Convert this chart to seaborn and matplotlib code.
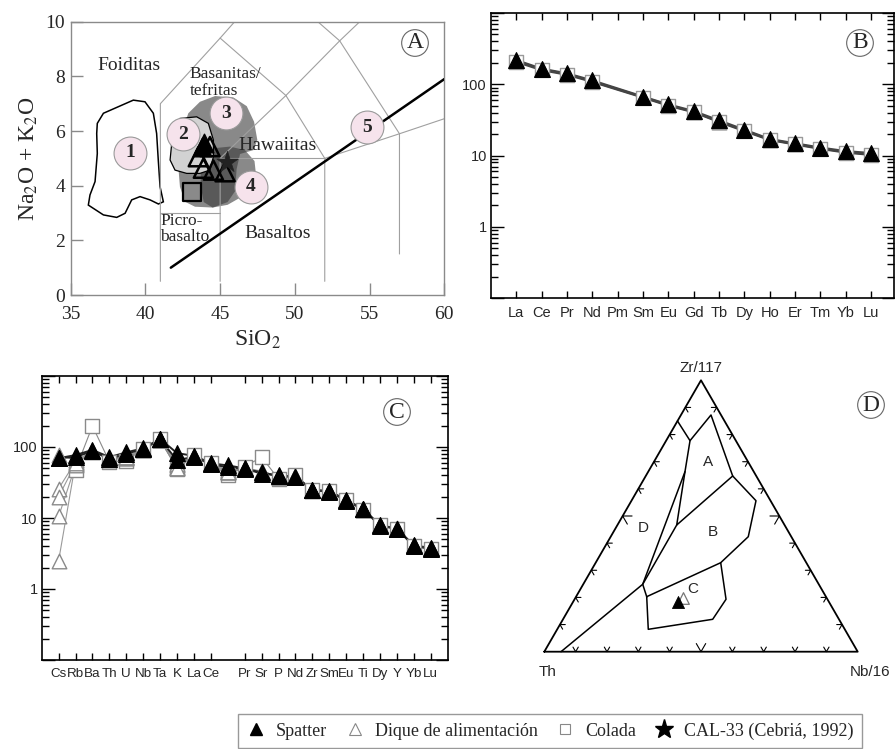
import numpy as np
import pandas as pd
import matplotlib
matplotlib.use("Agg")
import matplotlib.pyplot as plt
import matplotlib.ticker as mticker
from matplotlib.lines import Line2D
import seaborn as sns

sns.set_theme(style="ticks")
plt.rcParams["font.family"] = ["Liberation Serif", "DejaVu Serif"]
plt.rcParams["mathtext.fontset"] = "stix"
SANS = ["Liberation Sans", "DejaVu Sans"]
SERIF = ["Liberation Serif", "DejaVu Serif"]

# ---------------- Panel A : TAS diagram ----------------
tas_sio2_spatter = [43.77, 43.92]
tas_alk_spatter = [5.43, 5.55]
tas_sio2_dike = [44.32, 43.54, 43.88, 44.55, 45.33]
tas_alk_dike = [5.43, 5.06, 4.64, 4.57, 4.51]
tas_sio2_colada = [43.1]
tas_alk_colada = [3.78]
tas_sio2_cal33 = [45.44]
tas_alk_cal33 = [4.88]

tas_boundaries = [
    [(41, 0.5), (41, 7), (45, 9.4), (48.4, 11.5)],
    [(41, 3), (45, 3)],
    [(45, 0.5), (45, 5), (49.4, 7.3), (52, 5), (52, 0.5)],
    [(45, 5), (52, 5)],
    [(45, 9.4), (49.4, 7.3)],
    [(49.4, 7.3), (53, 9.3), (57.6, 11.7)],
    [(48.4, 11.5), (53, 9.3)],
    [(52, 5), (57, 5.9), (63, 7)],
    [(53, 9.3), (57, 5.9), (57, 1.5)],
]
alk_divide_x = [41.7, 60]
alk_divide_y = [1.0, 7.9]

field1_x = [36.78, 37.19, 39.19, 39.97, 40.53, 40.75, 40.86, 40.98, 41.2, 40.87, 40.31, 39.64, 39.08, 38.64, 38.08, 37.19, 36.18, 36.29, 36.63, 36.78, 36.74]
field1_y = [6.28, 6.65, 7.13, 7.07, 6.65, 5.91, 4.94, 3.96, 3.41, 3.33, 3.48, 3.60, 3.48, 2.99, 2.84, 2.93, 3.29, 3.66, 4.15, 5.18, 5.91]
field2_x = [42.31, 43.43, 44.21, 44.55, 44.55, 44.32, 43.65, 42.76, 41.98, 41.65, 41.76, 41.91]
field2_y = [6.46, 6.52, 6.28, 5.67, 5.06, 4.57, 4.45, 4.45, 4.57, 4.94, 5.55, 6.10]
field3_x = [42.49, 42.87, 43.65, 44.66, 45.88, 46.78, 47.27, 47.49, 47.22, 46.33, 46.1, 46.0, 45.5, 44.5, 43.32, 42.65, 42.31, 42.2]
field3_y = [6.04, 6.65, 7.07, 7.28, 7.23, 6.91, 6.34, 5.67, 5.30, 5.16, 4.6, 3.8, 3.4, 3.2, 3.23, 3.41, 3.96, 4.7]
field4_x = [43.9, 44.55, 45.66, 46.66, 47.3, 47.4, 47.0, 46.3, 45.5, 44.5, 43.9, 43.7, 43.7]
field4_y = [5.1, 5.37, 5.43, 5.30, 4.9, 4.4, 3.9, 3.55, 3.3, 3.2, 3.4, 4.0, 4.6]

num_labels = ["1", "2", "3", "4", "5"]
num_x = [38.97, 42.49, 45.39, 47.04, 54.80]
num_y = [5.21, 5.88, 6.65, 3.96, 6.13]

# ---------------- Panel B : REE ----------------
ree = ["La", "Ce", "Pr", "Nd", "Pm", "Sm", "Eu", "Gd", "Tb", "Dy", "Ho", "Er", "Tm", "Yb", "Lu"]
ree_spatter = [218, 165, 142, 113, np.nan, 67, 52, 42, 31, 23, 17, 14.8, 12.9, 11.5, 10.8]
ree_dike = [212, 162, 139, 110, np.nan, 66, 51, 41, 30, 22.5, 16.7, 14.5, 12.6, 11.2, 10.4]
ree_colada = [206, 158, 136, 108, np.nan, 65, 50, 40.5, 29.5, 22, 16.5, 14.3, 12.4, 11.0, 10.2]

# ---------------- Panel C : spider ----------------
spider = ["Cs", "Rb", "Ba", "Th", "U", "Nb", "Ta", "K", "La", "Ce", "Pb", "Pr", "Sr", "P", "Nd", "Zr", "Sm", "Eu", "Ti", "Dy", "Y", "Yb", "Lu"]
spider_labels = ["Cs", "Rb", "Ba", "Th", "U", "Nb", "Ta", "K", "La", "Ce", "", "Pr", "Sr", "P", "Nd", "Zr", "Sm", "Eu", "Ti", "Dy", "Y", "Yb", "Lu"]
sp_spatter1 = [69.5, 77, 91, 72, 84, 96, 130, 82, 75, 59, 55, 50, 42, 40, 38, 25, 24, 18, 13.5, 7.9, 7.1, 4.1, 3.8]
sp_spatter2 = [70, 72, 88, 68, 80, 94, 128, 65, 73, 57, 52, 49, 44, 39, 38, 24.5, 23.5, 17.5, 13.2, 7.8, 7.0, 4.0, 3.7]
sp_dike1 = [78, 65, 86, 68, 72, 92, 125, 50, 74, 58, 45, 50, 45, 38, 39, 24.5, 24, 18, 13.3, 8.0, 7.1, 4.0, 3.7]
sp_dike2 = [26, 62, 87, 66, 70, 92, 124, 52, 73, 57, 44, 50, 46, 38, 38, 24, 23.5, 17.8, 13.0, 7.9, 7.0, 4.0, 3.7]
sp_dike3 = [20, 58, 88, 67, 71, 93, 126, 55, 74, 58, 46, 51, 44, 38, 39, 24.5, 24, 18, 13.2, 8.0, 7.1, 4.1, 3.8]
sp_dike4 = [10.5, 55, 89, 69, 73, 94, 127, 58, 75, 58, 47, 50, 45, 39, 39, 25, 24, 18.2, 13.4, 8.0, 7.2, 4.1, 3.8]
sp_dike5 = [2.5, 60, 87, 67, 72, 93, 126, 51, 74, 57, 45, 50, 45, 38, 38, 24.5, 23.8, 17.9, 13.1, 7.9, 7.0, 4.0, 3.7]
sp_colada = [np.nan, 48, 198, 62, 64, 94, 128, 49, 78, 59, 40, 53, 72, 35.5, 40, 25, 24, 18, 13, 8, 7, 4, 3.7]

# ---------------- Panel D : ternary Th - Zr/117 - Nb/16 (fractions Zr, Nb) ----------------
tern_spatter_zr, tern_spatter_nb = [0.184], [0.334]
tern_dike_zr, tern_dike_nb = [0.197], [0.345]
fieldD_zr = [0.85, 0.7775, 0.6632, 0.2484, 0.0]
fieldD_nb = [0.0, 0.0762, 0.1173, 0.1898, 0.0533]
fieldA_zr = [0.7775, 0.8722, 0.6474, 0.4668, 0.6632]
fieldA_nb = [0.0762, 0.0958, 0.2774, 0.1891, 0.1173]
fieldB_zr = [0.6474, 0.5563, 0.4237, 0.3279]
fieldB_nb = [0.2774, 0.3973, 0.4390, 0.3989]
fieldBl_zr = [0.4668, 0.2484, 0.2027]
fieldBl_nb = [0.1891, 0.1898, 0.2254]
fieldC_zr = [0.2027, 0.3279, 0.1931, 0.1194, 0.0825, 0.2027]
fieldC_nb = [0.2254, 0.3989, 0.4833, 0.4776, 0.2905, 0.2254]
tern_field_labels = ["A", "B", "C", "D"]
tern_label_zr = [0.700, 0.442, 0.230, 0.455]
tern_label_nb = [0.173, 0.318, 0.359, 0.089]
tern_ticks = [0.1, 0.2, 0.3, 0.4, 0.5, 0.6, 0.7, 0.8, 0.9]

legend_labels = ["Spatter", "Dique de alimentación", "Colada", "CAL-33 (Cebriá, 1992)"]

# =====================================================================
W, H = 896, 749
fig = plt.figure(figsize=(W / 100, H / 100), dpi=100)


def rect(l, t, r, b):
    return [l / W, 1 - b / H, (r - l) / W, (b - t) / H]


def circled(x, y, s):
    fig.text(x / W, 1 - y / H, s, ha="center", va="center", fontsize=17, family=SERIF,
             bbox=dict(boxstyle="circle,pad=0.12", fc="white", ec="#666", lw=0.8))


# ---------------- A ----------------
axA = fig.add_axes(rect(70.7, 21.7, 444.3, 295))
axA.set_xlim(35, 60)
axA.set_ylim(0, 10)
axA.fill(field3_x, field3_y, color="#3a3a3a", alpha=0.6, lw=0, zorder=1)
axA.fill(field4_x, field4_y, color="#3a3a3a", alpha=0.6, lw=0, zorder=1)
axA.fill(field2_x, field2_y, facecolor="#d2d2d2", edgecolor="black", lw=0.9, zorder=1.2)
axA.fill(field1_x, field1_y, facecolor="none", edgecolor="black", lw=1.1, zorder=1.2)
for seg in tas_boundaries:
    xs, ys = zip(*seg)
    axA.plot(xs, ys, color="#a0a0a0", lw=0.8, zorder=1.5)
axA.plot(alk_divide_x, alk_divide_y, color="black", lw=1.8, zorder=3)
sns.scatterplot(x=num_x, y=num_y, marker="o", s=560, color="#f6e3ec", edgecolor="#9a9a9a",
                linewidth=0.8, ax=axA, zorder=4)
for t, x, y in zip(num_labels, num_x, num_y):
    axA.text(x, y, t, ha="center", va="center", fontsize=14, fontweight="bold", zorder=5)
sns.scatterplot(x=tas_sio2_colada, y=tas_alk_colada, marker="s", s=150, color="#8a8a8a",
                edgecolor="black", linewidth=1.6, ax=axA, zorder=5)
sns.scatterplot(x=tas_sio2_spatter, y=tas_alk_spatter, marker="^", s=180, color="black",
                edgecolor="black", linewidth=1, ax=axA, zorder=6)
sns.scatterplot(x=tas_sio2_dike, y=tas_alk_dike, marker="^", s=190, facecolor="none",
                edgecolor="black", color="black", linewidth=1.8, ax=axA, zorder=6)
sns.scatterplot(x=tas_sio2_cal33, y=tas_alk_cal33, marker="*", s=260, color="#222",
                edgecolor="#222", linewidth=0.5, ax=axA, zorder=6)
axA.text(38.93, 8.41, "Foiditas", ha="center", va="center", fontsize=14)
axA.text(42.98, 8.09, "Basanitas/", ha="left", va="center", fontsize=12.5)
axA.text(42.98, 7.48, "tefritas", ha="left", va="center", fontsize=12.5)
axA.text(48.83, 5.46, "Hawaiitas", ha="center", va="center", fontsize=14)
axA.text(40.98, 2.72, "Picro-", ha="left", va="center", fontsize=12.5)
axA.text(40.98, 2.11, "basalto", ha="left", va="center", fontsize=12.5)
axA.text(48.83, 2.26, "Basaltos", ha="center", va="center", fontsize=14)
axA.set_xticks([35, 40, 45, 50, 55, 60])
axA.set_yticks([0, 2, 4, 6, 8, 10])
axA.tick_params(direction="in", length=8.5, width=1, color="#8a8a8a", labelsize=14)
axA.tick_params(axis="x", pad=8)
axA.tick_params(axis="y", pad=4)
for s in axA.spines.values():
    s.set_color("#8a8a8a")
    s.set_linewidth(1)
axA.set_xlabel("SiO$_2$", fontsize=17, labelpad=4)
axA.set_ylabel("Na$_2$O + K$_2$O", fontsize=17, labelpad=4)
circled(415, 43, "A")

# ---------------- B ----------------
axB = fig.add_axes(rect(491, 13, 894, 298))
axB.set_yscale("log")


def long_df(names, series, groups):
    rows = []
    for name, vals, g in zip(names, series, groups):
        for i, v in enumerate(vals):
            if not np.isnan(v):
                rows.append({"pos": i, "value": v, "sample": name, "group": g})
    return pd.DataFrame(rows)


dfB = long_df(["s", "d", "c"], [ree_spatter, ree_dike, ree_colada], ["spatter", "dike", "colada"])
sns.lineplot(data=dfB, x="pos", y="value", units="sample", estimator=None, color="#444",
             lw=1.6, ax=axB, zorder=2, legend=False)
sns.scatterplot(data=dfB[dfB.group == "colada"], x="pos", y="value", marker="s", s=110,
                color="white", edgecolor="#9a9a9a", linewidth=1, ax=axB, zorder=3)
sns.scatterplot(data=dfB[dfB.group == "dike"], x="pos", y="value", marker="^", s=110,
                color="white", edgecolor="#888", linewidth=1, ax=axB, zorder=3)
sns.scatterplot(data=dfB[dfB.group == "spatter"], x="pos", y="value", marker="^", s=130,
                color="black", edgecolor="black", linewidth=0.8, ax=axB, zorder=4)
axB.set_xlim(-1, 14.9)
axB.set_ylim(0.1, 500)
axB.set_xticks(range(len(ree)))
axB.set_xticklabels(ree)


def log_axes_style(ax, xlabsize):
    ax.set_yticks([0.1, 1, 10, 100, 1000])
    ax.set_yticklabels(["", "1", "10", "100", ""])
    ax.yaxis.set_minor_locator(mticker.LogLocator(base=10, subs=np.arange(2, 10), numticks=30))
    ax.yaxis.set_minor_formatter(mticker.NullFormatter())
    ax.tick_params(axis="y", which="major", direction="in", length=9, width=1, left=True,
                   right=True, labelsize=10.5, labelfontfamily="Liberation Sans", pad=3, color="black")
    ax.tick_params(axis="y", which="minor", direction="in", length=5, width=1, left=True,
                   right=True, color="black")
    ax.tick_params(axis="x", which="major", direction="in", length=5, width=1, top=True,
                   bottom=True, labelsize=xlabsize, labelfontfamily="Liberation Sans", pad=6, color="black")
    ax.set_xlabel("")
    ax.set_ylabel("")
    for s in ax.spines.values():
        s.set_color("black")
        s.set_linewidth(1.2)


log_axes_style(axB, 10.5)
circled(860, 43, "B")

# ---------------- C ----------------
axC = fig.add_axes(rect(41.7, 376, 447.7, 660))
axC.set_yscale("log")
dfC = long_df(["s1", "s2", "d1", "d2", "d3", "d4", "d5", "c1"],
              [sp_spatter1, sp_spatter2, sp_dike1, sp_dike2, sp_dike3, sp_dike4, sp_dike5, sp_colada],
              ["spatter", "spatter", "dike", "dike", "dike", "dike", "dike", "colada"])
sns.lineplot(data=dfC[dfC.group == "dike"], x="pos", y="value", units="sample", estimator=None,
             color="#9a9a9a", lw=0.8, ax=axC, zorder=2, legend=False)
sns.lineplot(data=dfC[dfC.group == "colada"], x="pos", y="value", units="sample", estimator=None,
             color="#8a8a8a", lw=0.8, ax=axC, zorder=2, legend=False)
sns.lineplot(data=dfC[dfC.group == "spatter"], x="pos", y="value", units="sample", estimator=None,
             color="#222", lw=1.4, ax=axC, zorder=3, legend=False)
sns.scatterplot(data=dfC[dfC.group == "colada"], x="pos", y="value", marker="s", s=100,
                color="white", edgecolor="#8a8a8a", linewidth=1, ax=axC, zorder=4)
sns.scatterplot(data=dfC[dfC.group == "dike"], x="pos", y="value", marker="^", s=110,
                color="white", edgecolor="#8a8a8a", linewidth=1, ax=axC, zorder=4)
sns.scatterplot(data=dfC[dfC.group == "spatter"], x="pos", y="value", marker="^", s=130,
                color="black", edgecolor="black", linewidth=0.8, ax=axC, zorder=5)
axC.set_xlim(-1, 23)
axC.set_ylim(1, 1000)
tick_pos = [i for i, lab in enumerate(spider_labels) if lab]
axC.set_xticks(tick_pos)
axC.set_xticklabels([spider_labels[i] for i in tick_pos])
log_axes_style(axC, 9.6)
axC.set_yticklabels(["", "1", "10", "100", ""])
circled(397, 412, "C")

# ---------------- D ----------------
axD = fig.add_axes(rect(505, 355, 896, 700))
ox, oy, sc = 544.3, 651.7, 313.4
axD.set_xlim((505 - ox) / sc, (896 - ox) / sc)
axD.set_ylim((oy - 700) / sc, (oy - 355) / sc)
axD.axis("off")
R3 = np.sqrt(3) / 2


def txy(zr, nb):
    zr = np.asarray(zr, float)
    nb = np.asarray(nb, float)
    return nb + 0.5 * zr, zr * R3


# triangle frame
tri_zr = [0, 0, 1, 0]
tri_nb = [0, 1, 0, 0]
fx, fy = txy(tri_zr, tri_nb)
axD.plot(fx, fy, color="black", lw=1.3)
for zrs, nbs in [(fieldD_zr, fieldD_nb), (fieldA_zr, fieldA_nb), (fieldB_zr, fieldB_nb),
                 (fieldBl_zr, fieldBl_nb), (fieldC_zr, fieldC_nb)]:
    x, y = txy(zrs, nbs)
    axD.plot(x, y, color="black", lw=1.1)
# edge ticks (chevrons parallel to the other two edges)
for f in tern_ticks:
    L = 0.03 if abs(f - 0.5) < 1e-6 else 0.017
    bx, by = txy(0, f)
    axD.plot([bx - 0.5 * L, bx, bx + 0.5 * L], [by + R3 * L, by, by + R3 * L], color="black", lw=0.8)
    lx, ly = txy(f, 0)
    axD.plot([lx + L, lx, lx + 0.5 * L], [ly, ly, ly - R3 * L], color="black", lw=0.8)
    rx, ry = txy(f, 1 - f)
    axD.plot([rx - L, rx, rx - 0.5 * L], [ry, ry, ry - R3 * L], color="black", lw=0.8)
x, y = txy(tern_dike_zr, tern_dike_nb)
sns.scatterplot(x=x, y=y, marker="^", s=70, color="white", edgecolor="#777", linewidth=0.9, ax=axD, zorder=4)
x, y = txy(tern_spatter_zr, tern_spatter_nb)
sns.scatterplot(x=x, y=y, marker="^", s=75, color="black", edgecolor="black", linewidth=0.6, ax=axD, zorder=5)
for lab, zr, nb in zip(tern_field_labels, tern_label_zr, tern_label_nb):
    x, y = txy(zr, nb)
    axD.text(x, y, lab, ha="center", va="center", fontsize=11, family=SANS)
axD.text(0.5, R3 + 0.038, "Zr/117", ha="center", va="center", fontsize=11, family=SANS)
axD.text(0.012, -0.065, "Th", ha="center", va="center", fontsize=11, family=SANS)
axD.text(1.039, -0.065, "Nb/16", ha="center", va="center", fontsize=11, family=SANS)
circled(871, 405, "D")

# ---------------- legend ----------------
handles = [
    Line2D([], [], ls="none", marker="^", color="black", ms=8),
    Line2D([], [], ls="none", marker="^", mfc="none", mec="#888", mew=0.8, ms=8),
    Line2D([], [], ls="none", marker="s", mfc="none", mec="#888", mew=0.8, ms=7),
    Line2D([], [], ls="none", marker="*", color="black", ms=14),
]
leg = fig.legend(handles, legend_labels, ncol=4, loc="center", bbox_to_anchor=(550 / W, 1 - 731 / H),
                 frameon=True, fancybox=False, edgecolor="#999", framealpha=1,
                 prop={"family": "Liberation Serif", "size": 13}, handlelength=1.0,
                 handletextpad=0.6, columnspacing=1.05, borderpad=0.45)
leg.get_frame().set_linewidth(1.0)

fig.savefig("out.png", dpi=100)
